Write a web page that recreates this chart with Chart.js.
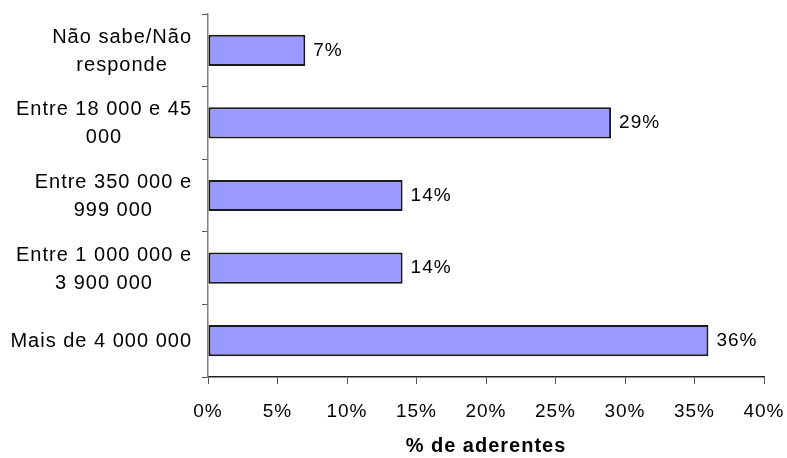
<!DOCTYPE html>
<html>
<head>
<meta charset="utf-8">
<script src="https://cdn.jsdelivr.net/npm/chart.js@4"></script>
<style>
  html, body { margin: 0; padding: 0; background: #fff; }
  #wrap { width: 787px; height: 458px; }
</style>
</head>
<body>
<div id="wrap"><canvas id="myChart" width="787" height="458"></canvas></div>
<script>
// categories (top to bottom) and values in %
const categories = [
  ['Não sabe/Não', 'responde'],
  ['Entre 18 000 e 45', '000'],
  ['Entre 350 000 e', '999 000'],
  ['Entre 1 000 000 e', '3 900 000'],
  ['Mais de 4 000 000']
]
const aderentes = [7, 29, 14, 14, 36]
const xTicks = [0, 5, 10, 15, 20, 25, 30, 35, 40]

const FONT = '"Liberation Sans", Arial, sans-serif'

// a bit of letter spacing like the original
const spacing = {
  id: 'spacing',
  beforeLayout(chart) { chart.ctx.letterSpacing = '1px' },
  beforeDraw(chart) { chart.ctx.letterSpacing = '1px' }
}

// category labels: block right aligned, lines centred in the block
const catLabels = {
  id: 'catLabels',
  afterDraw(chart) {
    const ctx = chart.ctx
    const y = chart.scales.y
    ctx.save()
    ctx.letterSpacing = '1px'
    ctx.font = '20px ' + FONT
    ctx.fillStyle = '#000'
    ctx.textAlign = 'center'
    ctx.textBaseline = 'middle'
    const lineH = 28
    categories.forEach((lines, i) => {
      const cy = y.getPixelForTick(i)
      const maxW = Math.max(...lines.map(l => ctx.measureText(l).width))
      const cx = y.right - 16 - maxW / 2
      const top = cy - (lines.length - 1) * lineH / 2 + 1
      lines.forEach((l, k) => ctx.fillText(l, cx, top + k * lineH))
    })
    ctx.restore()
  }
}

// labels at end of bars
const barLabels = {
  id: 'barLabels',
  afterDatasetsDraw(chart) {
    const ctx = chart.ctx
    const meta = chart.getDatasetMeta(0)
    ctx.save()
    ctx.letterSpacing = '1px'
    ctx.font = '19px ' + FONT
    ctx.fillStyle = '#000'
    ctx.textAlign = 'left'
    ctx.textBaseline = 'middle'
    meta.data.forEach((bar, i) => {
      ctx.fillText(aderentes[i] + '%', bar.x + 8, bar.y)
    })
    ctx.restore()
  }
}

const ctx = document.getElementById('myChart')
const myChart = new Chart(ctx, {
  type: 'bar',
  data: {
    labels: categories,
    datasets: [{
      data: aderentes,
      backgroundColor: '#9999FF',
      borderColor: '#1a1a1a',
      borderWidth: 2,
      borderSkipped: false,
      barPercentage: 0.43,
      categoryPercentage: 1
    }]
  },
  options: {
    indexAxis: 'y',
    responsive: false,
    animation: false,
    layout: { padding: { top: 14, right: 23, left: 0, bottom: 0 } },
    plugins: {
      legend: { display: false },
      tooltip: { enabled: false }
    },
    scales: {
      x: {
        min: 0,
        max: 40,
        afterBuildTicks(scale) {
          scale.ticks = xTicks.map(v => ({ value: v }))
        },
        afterFit(scale) {
          scale.height = 81
          scale.paddingLeft = 0
          scale.paddingRight = 0
        },
        border: { color: '#222', width: 1.5 },
        grid: { drawOnChartArea: false, drawTicks: true, tickLength: 7, color: '#555' },
        ticks: {
          color: '#000',
          font: { family: FONT, size: 19 },
          padding: 16,
          maxRotation: 0,
          callback: v => v + '%'
        },
        title: {
          display: true,
          text: '% de aderentes',
          color: '#000',
          font: { family: FONT, size: 20, weight: 'bold' },
          padding: { top: 10, bottom: 0 }
        }
      },
      y: {
        afterFit(scale) {
          scale.width = 208
          scale.paddingTop = 0
          scale.paddingBottom = 0
        },
        border: { color: '#808080', width: 1.5 },
        grid: { drawOnChartArea: false, drawTicks: true, tickLength: 6, color: '#555', offset: true },
        ticks: { display: false }
      }
    }
  },
  plugins: [spacing, catLabels, barLabels]
})
</script>
</body>
</html>
